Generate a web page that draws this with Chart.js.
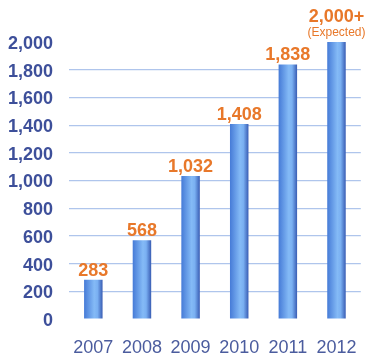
<!DOCTYPE html>
<html><head><meta charset="utf-8">
<script src="https://cdn.jsdelivr.net/npm/chart.js@4"></script>
<style>html,body{margin:0;padding:0;background:#fff}#wrap{width:375px;height:359px}</style>
</head><body><div id="wrap"><canvas id="c" width="375" height="359"></canvas></div>
<script>
const years = ['2007','2008','2009','2010','2011','2012'];
const values = [283, 568, 1032, 1408, 1838, 2000];
const valueLabels = ['283','568','1,032','1,408','1,838','2,000+'];
const noteLabels = ['','','','','','(Expected)'];
const yTicks = [0,200,400,600,800,1000,1200,1400,1600,1800,2000];

function barGradient(ctx){
  const chart = ctx.chart; const xs = chart.scales && chart.scales.x;
  if(!xs || ctx.dataIndex === undefined) return '#5b8fe0';
  const cx = xs.getPixelForValue(ctx.dataIndex);
  const w = 19;
  if(!isFinite(cx)) return '#5b8fe0';
  const x0 = cx - w/2;
  const g = chart.ctx.createLinearGradient(x0,0,x0+w,0);
  g.addColorStop(0,'#4479d6'); g.addColorStop(0.55,'#84baf6'); g.addColorStop(0.72,'#7ab0f2'); g.addColorStop(1,'#3558b0');
  return g;
}
const labelPlugin = {
  id:'vlabels',
  afterDatasetsDraw(chart){
    const c = chart.ctx; const meta = chart.getDatasetMeta(0);
    c.save(); c.textAlign='center'; c.fillStyle='#e8782a';
    meta.data.forEach((bar,i)=>{
      if(noteLabels[i]){
        c.font='12px "Liberation Sans", Arial, sans-serif'; c.textBaseline='alphabetic';
        c.fillText(noteLabels[i], bar.x, bar.y-6);
        c.font='bold 18px "Liberation Sans", Arial, sans-serif';
        c.fillText(valueLabels[i], bar.x, bar.y-20);
      } else {
        c.font='bold 18px "Liberation Sans", Arial, sans-serif'; c.textBaseline='alphabetic';
        c.fillText(valueLabels[i], bar.x, bar.y-4);
      }
    });
    c.restore();
  }
};
new Chart(document.getElementById('c'),{
  type:'bar',
  data:{labels:years,datasets:[{data:values,backgroundColor:barGradient,barPercentage:0.38,categoryPercentage:1,borderWidth:0}]},
  options:{
    responsive:false,animation:false,
    layout:{padding:{top:42,right:6,left:0,bottom:0}},
    plugins:{legend:{display:false},tooltip:{enabled:false}},
    scales:{
      x:{grid:{display:false,drawTicks:false},border:{display:false},
        ticks:{color:'#4b5c9e',font:{family:'"Liberation Sans", Arial, sans-serif',size:18},padding:18},
        afterFit(s){s.height=40;}},
      y:{min:0,max:2000,afterBuildTicks(s){s.ticks=yTicks.map(v=>({value:v}));},
        grid:{drawTicks:false,color:(ctx)=>(ctx.tick && (ctx.tick.value===0||ctx.tick.value===2000))?'rgba(0,0,0,0)':'#afc5ec',lineWidth:1.2},
        border:{display:false},
        ticks:{color:'#3d4f9a',font:{family:'"Liberation Sans", Arial, sans-serif',size:18,weight:'bold'},padding:16,labelOffset:2,
          callback:(v)=>v.toLocaleString('en-US')},
        afterFit(s){s.width=69;}}
    }
  },
  plugins:[labelPlugin]
});
</script></body></html>
